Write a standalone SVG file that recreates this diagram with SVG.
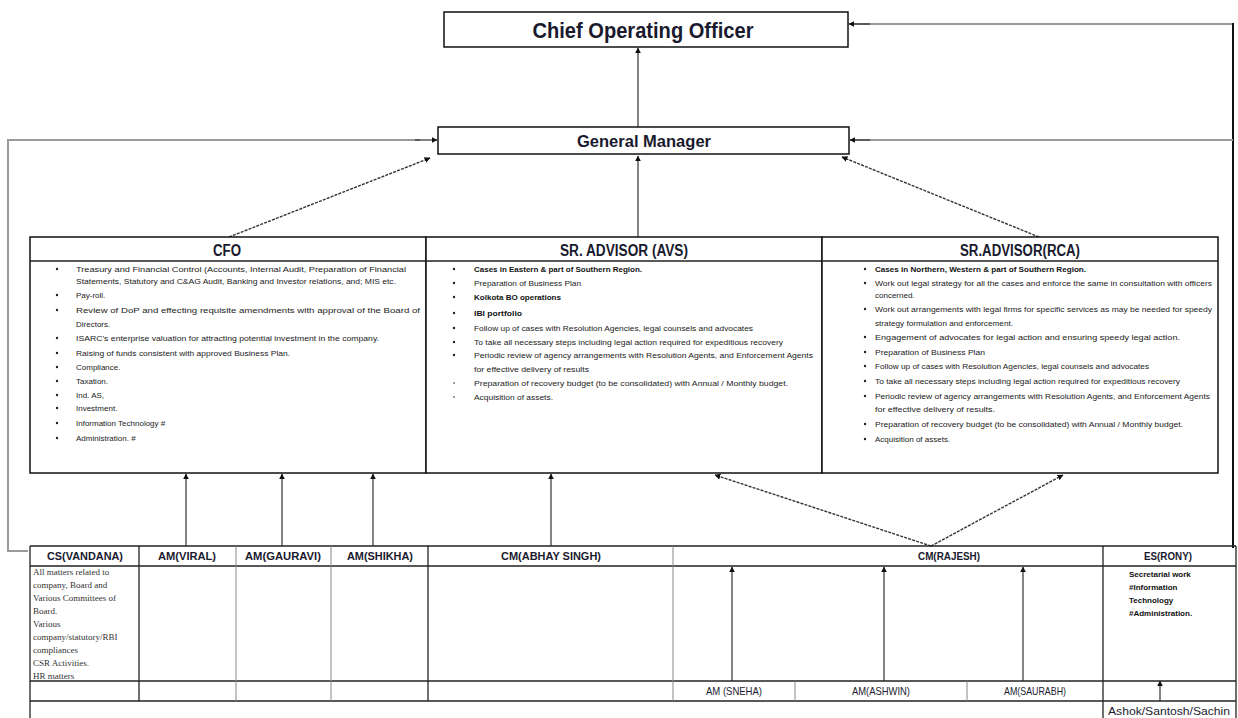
<svg xmlns="http://www.w3.org/2000/svg" width="1238" height="718" viewBox="0 0 1238 718">
<defs>
<marker id="ah" viewBox="0 0 10 10" refX="9" refY="5" markerWidth="6" markerHeight="6" orient="auto" markerUnits="userSpaceOnUse"><path d="M0,0 L10,5 L0,10 z" fill="#111"/></marker>
<style>
.box{fill:#fff;stroke:#111;stroke-width:1.5}
.ln{stroke:#222;stroke-width:1.3;fill:none}
.lg{stroke:#888;stroke-width:1;fill:none}
.c{stroke:#333;stroke-width:1.2;fill:none;marker-end:url(#ah)}
.cd{stroke:#333;stroke-width:1.4;fill:none;stroke-dasharray:3 1.2;marker-end:url(#ah)}
.cg{stroke:#9a9a9a;stroke-width:2;fill:none}
.h{font-family:"Liberation Sans",Arial,sans-serif;font-weight:bold;fill:#1a1a2e;text-anchor:middle}
.t{font-family:"Liberation Sans",Arial,sans-serif;font-size:8px;fill:#222}
.tb{font-family:"Liberation Sans",Arial,sans-serif;font-size:8px;fill:#111;font-weight:bold}
.s{font-family:"Liberation Serif","Times New Roman",serif;font-size:9px;fill:#333}
.th{font-family:"Liberation Sans",Arial,sans-serif;font-weight:bold;font-size:10.5px;fill:#1a1a2e;text-anchor:middle}
.tn{font-family:"Liberation Sans",Arial,sans-serif;font-size:10.5px;fill:#1a1a2e;text-anchor:middle}
.bul{fill:#222}
</style>
</defs>
<rect width="1238" height="718" fill="#fff"/>

<g id="connectors">
<line class="c" x1="638" y1="127" x2="638" y2="48"/>
<polyline class="cg" points="1233,24 852,24"/>
<line x1="1233" y1="23" x2="1233" y2="548" stroke="#111" stroke-width="2"/>
<line class="c" x1="870" y1="24" x2="849" y2="24"/>
<polyline class="cg" points="1233,140 852,140"/>
<line class="c" x1="870" y1="140" x2="850" y2="140"/>
<polyline class="cg" points="28,551 8,551 8,140 420,140"/>
<line class="c" x1="415" y1="140" x2="437" y2="140"/>
<line class="cd" x1="229" y1="237" x2="430" y2="158"/>
<line class="c" x1="638" y1="237" x2="638" y2="156"/>
<line class="cd" x1="1039" y1="237" x2="842" y2="157"/>
<line class="c" x1="186" y1="546" x2="186" y2="474"/>
<line class="c" x1="282" y1="546" x2="282" y2="474"/>
<line class="c" x1="373" y1="546" x2="373" y2="474"/>
<line class="c" x1="551" y1="546" x2="551" y2="474"/>
<line class="cd" x1="931" y1="546" x2="715" y2="475"/>
<line class="cd" x1="931" y1="546" x2="1063" y2="475"/>
<line class="c" x1="732" y1="681" x2="732" y2="567"/>
<line class="c" x1="884" y1="681" x2="884" y2="567"/>
<line class="c" x1="1023" y1="681" x2="1023" y2="567"/>
<line class="c" x1="1160" y1="701" x2="1160" y2="681"/>
</g>

<g id="coo">
<rect class="box" x="444" y="12" width="404" height="35"/>
<text class="h" x="643" y="38" font-size="22" textLength="221" lengthAdjust="spacingAndGlyphs">Chief Operating Officer</text>
</g>

<g id="gm">
<rect class="box" x="438" y="127" width="411" height="27"/>
<text class="h" x="644" y="147" font-size="17" textLength="134" lengthAdjust="spacingAndGlyphs">General Manager</text>
</g>

<g id="cfo">
<rect class="box" x="30" y="237" width="396" height="236"/>
<line class="ln" x1="30" y1="261" x2="426" y2="261"/>
<text class="h" x="227" y="256" font-size="16" textLength="28" lengthAdjust="spacingAndGlyphs">CFO</text>
<g class="bul">
<circle cx="57" cy="269" r="1.2"/><circle cx="57" cy="295" r="1.2"/><circle cx="57" cy="310" r="1.2"/><circle cx="57" cy="338" r="1.2"/><circle cx="57" cy="353" r="1.2"/><circle cx="57" cy="367" r="1.2"/><circle cx="57" cy="381" r="1.2"/><circle cx="57" cy="395" r="1.2"/><circle cx="57" cy="408" r="1.2"/><circle cx="57" cy="423" r="1.2"/><circle cx="57" cy="438" r="1.2"/>
</g>
<text class="t" x="76" y="272" textLength="330" lengthAdjust="spacingAndGlyphs">Treasury and Financial Control (Accounts, Internal Audit, Preparation of Financial</text>
<text class="t" x="76" y="284" textLength="320" lengthAdjust="spacingAndGlyphs">Statements, Statutory and C&amp;AG Audit, Banking and Investor relations, and; MIS etc.</text>
<text class="t" x="76" y="298">Pay-roll.</text>
<text class="t" x="76" y="313" textLength="344" lengthAdjust="spacingAndGlyphs">Review of DoP and effecting requisite amendments with approval of the Board of</text>
<text class="t" x="76" y="327">Directors.</text>
<text class="t" x="76" y="341" textLength="303" lengthAdjust="spacingAndGlyphs">ISARC's enterprise valuation for attracting potential investment in the company.</text>
<text class="t" x="76" y="356" textLength="214" lengthAdjust="spacingAndGlyphs">Raising of funds consistent with approved Business Plan.</text>
<text class="t" x="76" y="370">Compliance.</text>
<text class="t" x="76" y="384">Taxation.</text>
<text class="t" x="76" y="398">Ind. AS,</text>
<text class="t" x="76" y="411">Investment.</text>
<text class="t" x="76" y="426">Information Technology #</text>
<text class="t" x="76" y="441">Administration. #</text>
</g>

<g id="avs">
<rect class="box" x="426" y="237" width="396" height="236"/>
<line class="ln" x1="426" y1="261" x2="822" y2="261"/>
<text class="h" x="624" y="256" font-size="16" textLength="128" lengthAdjust="spacingAndGlyphs">SR. ADVISOR (AVS)</text>
<g class="bul">
<circle cx="454" cy="269" r="1.2"/><circle cx="454" cy="283" r="1.2"/><circle cx="454" cy="297" r="1.2"/><circle cx="454" cy="313" r="1.2"/><circle cx="454" cy="328" r="1.2"/><circle cx="454" cy="342" r="1.2"/><circle cx="454" cy="355" r="1.2"/><circle cx="454" cy="383" r="0.8"/><circle cx="454" cy="397" r="0.8"/>
</g>
<text class="tb" x="474" y="272" textLength="168" lengthAdjust="spacingAndGlyphs">Cases in Eastern &amp; part of Southern Region.</text>
<text class="t" x="474" y="286" textLength="107" lengthAdjust="spacingAndGlyphs">Preparation of Business Plan</text>
<text class="tb" x="474" y="300" textLength="87" lengthAdjust="spacingAndGlyphs">Kolkota BO operations</text>
<text class="tb" x="474" y="316" textLength="48" lengthAdjust="spacingAndGlyphs">IBI portfolio</text>
<text class="t" x="474" y="331" textLength="279" lengthAdjust="spacingAndGlyphs">Follow up of cases with Resolution Agencies, legal counsels and advocates</text>
<text class="t" x="474" y="345" textLength="309" lengthAdjust="spacingAndGlyphs">To take all necessary steps including legal action required for expeditious recovery</text>
<text class="t" x="474" y="358" textLength="339" lengthAdjust="spacingAndGlyphs">Periodic review of agency arrangements with Resolution Agents, and Enforcement Agents</text>
<text class="t" x="474" y="372" textLength="115" lengthAdjust="spacingAndGlyphs">for effective delivery of results</text>
<text class="t" x="474" y="386" textLength="314" lengthAdjust="spacingAndGlyphs">Preparation of recovery budget (to be consolidated) with Annual / Monthly budget.</text>
<text class="t" x="474" y="400" textLength="79" lengthAdjust="spacingAndGlyphs">Acquisition of assets.</text>
</g>

<g id="rca">
<rect class="box" x="822" y="237" width="396" height="236"/>
<line class="ln" x1="822" y1="261" x2="1218" y2="261"/>
<text class="h" x="1020" y="256" font-size="16" textLength="120" lengthAdjust="spacingAndGlyphs">SR.ADVISOR(RCA)</text>
<g class="bul">
<circle cx="865" cy="269" r="1.2"/><circle cx="865" cy="283" r="1.2"/><circle cx="865" cy="309" r="1.2"/><circle cx="865" cy="337" r="1.2"/><circle cx="865" cy="352" r="1.2"/><circle cx="865" cy="366" r="1.2"/><circle cx="865" cy="381" r="1.2"/><circle cx="865" cy="396" r="1.2"/><circle cx="865" cy="424" r="1.2"/><circle cx="865" cy="439" r="1.2"/>
</g>
<text class="tb" x="875" y="272" textLength="211" lengthAdjust="spacingAndGlyphs">Cases  in Northern, Western &amp; part of Southern Region.</text>
<text class="t" x="875" y="286" textLength="337" lengthAdjust="spacingAndGlyphs">Work out legal strategy for all the cases and enforce the same in consultation with officers</text>
<text class="t" x="875" y="298">concerned.</text>
<text class="t" x="875" y="312" textLength="337" lengthAdjust="spacingAndGlyphs">Work out arrangements with legal firms for specific services as may be needed for speedy</text>
<text class="t" x="875" y="326" textLength="138" lengthAdjust="spacingAndGlyphs">strategy formulation and enforcement.</text>
<text class="t" x="875" y="340" textLength="305" lengthAdjust="spacingAndGlyphs">Engagement of advocates for legal action and ensuring speedy legal action.</text>
<text class="t" x="875" y="355" textLength="110" lengthAdjust="spacingAndGlyphs">Preparation of Business Plan</text>
<text class="t" x="875" y="369" textLength="274" lengthAdjust="spacingAndGlyphs">Follow up of cases with Resolution Agencies, legal counsels and advocates</text>
<text class="t" x="875" y="384" textLength="305" lengthAdjust="spacingAndGlyphs">To take all necessary steps including legal action required for expeditious recovery</text>
<text class="t" x="875" y="399" textLength="335" lengthAdjust="spacingAndGlyphs">Periodic review of agency arrangements with Resolution Agents, and Enforcement Agents</text>
<text class="t" x="875" y="412" textLength="120" lengthAdjust="spacingAndGlyphs">for effective delivery of results.</text>
<text class="t" x="875" y="427" textLength="308" lengthAdjust="spacingAndGlyphs">Preparation of recovery budget (to be consolidated) with Annual / Monthly budget.</text>
<text class="t" x="875" y="442">Acquisition of assets.</text>
</g>

<g id="table-grid">
<line class="ln" x1="30" y1="546" x2="1236" y2="546"/>
<line class="ln" x1="30" y1="566" x2="1236" y2="566"/>
<line class="ln" x1="30" y1="681" x2="1236" y2="681"/>
<line class="ln" x1="30" y1="701" x2="1236" y2="701" stroke-width="1.8"/>
<line class="ln" x1="30" y1="546" x2="30" y2="718"/>
<line class="ln" x1="1236" y1="546" x2="1236" y2="718"/>
<line class="ln" x1="139" y1="546" x2="139" y2="701"/>
<line class="lg" x1="236" y1="546" x2="236" y2="701"/>
<line class="lg" x1="331" y1="546" x2="331" y2="701"/>
<line class="ln" x1="428" y1="546" x2="428" y2="701"/>
<line class="lg" x1="673" y1="546" x2="673" y2="701"/>
<line class="ln" x1="1103" y1="546" x2="1103" y2="718"/>
<line class="lg" x1="795" y1="681" x2="795" y2="701"/>
<line class="lg" x1="967" y1="681" x2="967" y2="701"/>
</g>

<g id="cs-vandana">
<text class="th" x="85" y="560" textLength="76" lengthAdjust="spacingAndGlyphs">CS(VANDANA)</text>
<text class="s" x="33" y="575">All matters related to</text>
<text class="s" x="33" y="588">company, Board and</text>
<text class="s" x="33" y="601">Various Committees of</text>
<text class="s" x="33" y="614">Board.</text>
<text class="s" x="33" y="627">Various</text>
<text class="s" x="33" y="640">company/statutory/RBI</text>
<text class="s" x="33" y="653">compliances</text>
<text class="s" x="33" y="666">CSR Activities.</text>
<text class="s" x="33" y="679">HR matters</text>
</g>
<g id="am-viral"><text class="th" x="187" y="560" textLength="58" lengthAdjust="spacingAndGlyphs">AM(VIRAL)</text></g>
<g id="am-gauravi"><text class="th" x="283" y="560" textLength="76" lengthAdjust="spacingAndGlyphs">AM(GAURAVI)</text></g>
<g id="am-shikha"><text class="th" x="380" y="560" textLength="66" lengthAdjust="spacingAndGlyphs">AM(SHIKHA)</text></g>
<g id="cm-abhay"><text class="th" x="551" y="560" textLength="100" lengthAdjust="spacingAndGlyphs">CM(ABHAY SINGH)</text></g>
<g id="cm-rajesh"><text class="th" x="949" y="560" textLength="62" lengthAdjust="spacingAndGlyphs">CM(RAJESH)</text></g>
<g id="es-rony">
<text class="th" x="1168" y="560" textLength="48" lengthAdjust="spacingAndGlyphs">ES(RONY)</text>
<text class="tb" x="1129" y="577">Secretarial work</text>
<text class="tb" x="1129" y="590">#Information</text>
<text class="tb" x="1129" y="603">Technology</text>
<text class="tb" x="1129" y="616">#Administration.</text>
</g>
<g id="am-sneha"><text class="tn" x="734" y="695" textLength="56" lengthAdjust="spacingAndGlyphs">AM (SNEHA)</text></g>
<g id="am-ashwin"><text class="tn" x="881" y="695" textLength="58" lengthAdjust="spacingAndGlyphs">AM(ASHWIN)</text></g>
<g id="am-saurabh"><text class="tn" x="1035" y="695" textLength="62" lengthAdjust="spacingAndGlyphs">AM(SAURABH)</text></g>
<g id="ashok"><text class="tn" x="1169" y="715" font-size="10.5" textLength="122" lengthAdjust="spacingAndGlyphs">Ashok/Santosh/Sachin</text></g>
</svg>
